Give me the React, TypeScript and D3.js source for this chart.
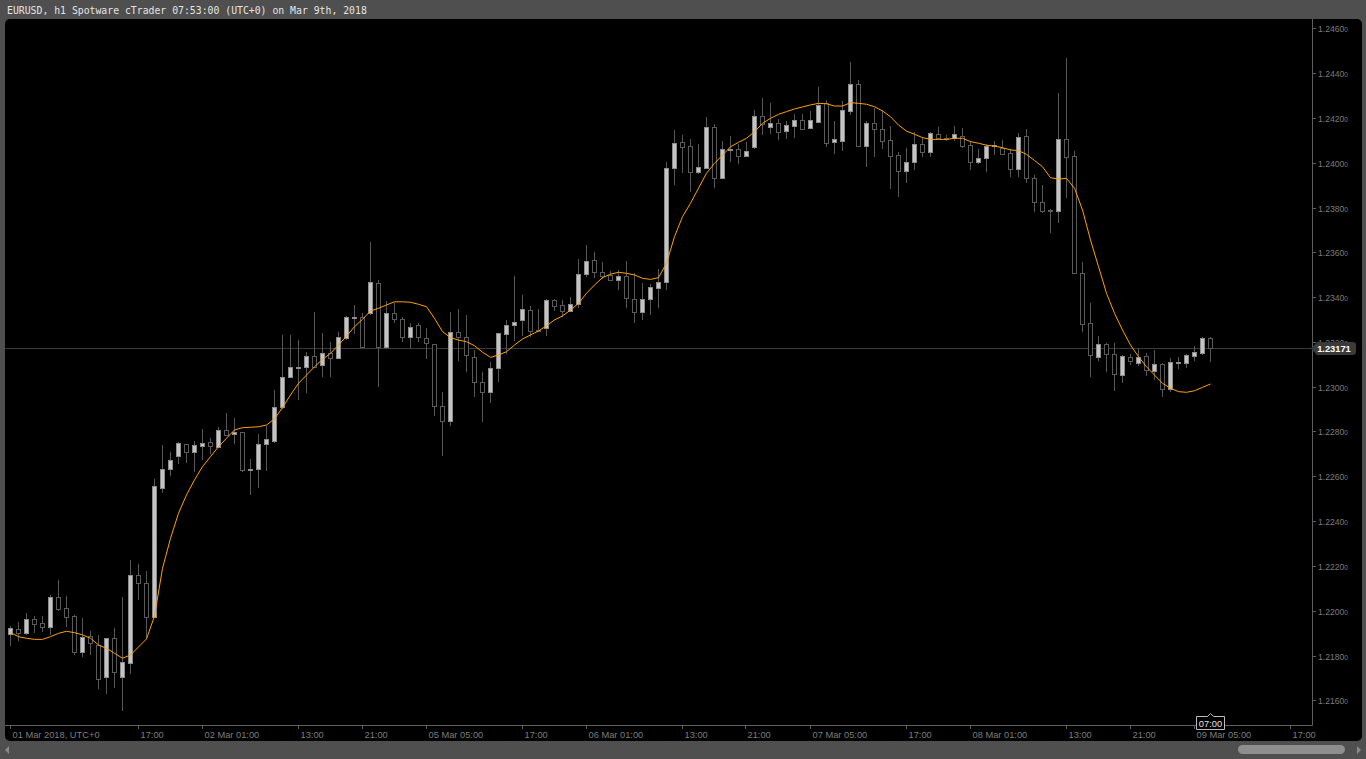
import React, { useEffect } from "react";
import * as d3 from "d3";

const openP = [
1.21896,1.21917,1.21902,1.21963,1.21944,1.21929,1.22060,1.22011,1.21976,1.21817,
1.21887,1.21847,1.21705,1.21877,1.21705,1.21768,1.22159,1.22125,1.21973,1.22549,
1.22631,1.22692,1.22743,1.22710,1.22734,1.22752,1.22732,1.22805,1.22788,1.22796,
1.22630,1.22634,1.22743,1.22759,1.22908,1.23045,1.23087,1.23089,1.23138,1.23096,
1.23149,1.23127,1.23216,1.23309,1.23310,1.23330,1.23462,1.23179,1.23328,1.23301,
1.23221,1.23275,1.23216,1.23189,1.22913,1.22846,1.23246,1.23223,1.23134,1.23020,
1.22975,1.23082,1.23234,1.23274,1.23296,1.23341,1.23252,1.23261,1.23386,1.23363,
1.23339,1.23368,1.23502,1.23566,1.23511,1.23499,1.23475,1.23494,1.23391,1.23335,
1.23390,1.23439,1.23466,1.23975,1.24091,1.24074,1.23957,1.23978,1.24158,1.23933,
1.24058,1.24060,1.24030,1.24069,1.24208,1.24158,1.24176,1.24143,1.24165,1.24189,
1.24156,1.24183,1.24266,1.24091,1.24098,1.24232,1.24350,1.24076,1.24176,1.24149,
1.24100,1.24034,1.23964,1.24004,1.24082,1.24046,1.24127,1.24110,1.24109,1.24120,
1.24079,1.24004,1.24022,1.24074,1.24067,1.24042,1.23970,1.24119,1.23930,1.23826,
1.23790,1.23786,1.24104,1.24030,1.23509,1.23283,1.23134,1.23189,1.23145,1.23051,
1.23131,1.23104,1.23137,1.23071,1.23100,1.22991,1.23108,1.23104,1.23138,1.23149,
1.23216];

const highP = [
1.21932,1.21951,1.21991,1.21976,1.21976,1.22070,1.22137,1.22066,1.21981,1.21966,
1.21909,1.21892,1.21880,1.21921,1.22063,1.22226,1.22209,1.22177,1.22588,1.22740,
1.22710,1.22753,1.22745,1.22758,1.22811,1.22772,1.22819,1.22881,1.22859,1.22798,
1.22677,1.22789,1.22825,1.22985,1.23231,1.23231,1.23208,1.23156,1.23332,1.23238,
1.23201,1.23243,1.23316,1.23365,1.23328,1.23645,1.23476,1.23383,1.23375,1.23310,
1.23283,1.23283,1.23261,1.23191,1.22975,1.23332,1.23347,1.23320,1.23164,1.23067,
1.23112,1.23240,1.23298,1.23494,1.23409,1.23360,1.23347,1.23391,1.23390,1.23386,
1.23400,1.23569,1.23633,1.23603,1.23555,1.23516,1.23521,1.23561,1.23506,1.23462,
1.23457,1.23525,1.24002,1.24146,1.24124,1.24106,1.24083,1.24205,1.24171,1.24097,
1.24119,1.24082,1.24091,1.24235,1.24290,1.24265,1.24194,1.24186,1.24216,1.24216,
1.24231,1.24337,1.24280,1.24186,1.24277,1.24448,1.24369,1.24186,1.24243,1.24235,
1.24164,1.24046,1.24064,1.24138,1.24116,1.24136,1.24161,1.24124,1.24164,1.24153,
1.24097,1.24061,1.24082,1.24098,1.24101,1.24060,1.24131,1.24150,1.23945,1.23900,
1.23793,1.24312,1.24466,1.24052,1.23557,1.23372,1.23226,1.23196,1.23194,1.23142,
1.23146,1.23174,1.23152,1.23164,1.23104,1.23127,1.23131,1.23146,1.23183,1.23223,
1.23221];

const lowP = [
1.21842,1.21865,1.21892,1.21902,1.21906,1.21892,1.22000,1.21929,1.21802,1.21795,
1.21802,1.21649,1.21628,1.21654,1.21554,1.21717,1.22048,1.21878,1.21972,1.22527,
1.22601,1.22655,1.22661,1.22621,1.22673,1.22700,1.22725,1.22782,1.22744,1.22621,
1.22517,1.22549,1.22625,1.22750,1.22900,1.23040,1.22941,1.22973,1.23085,1.23045,
1.23045,1.23122,1.23208,1.23235,1.23177,1.23320,1.22997,1.23167,1.23286,1.23201,
1.23167,1.23198,1.23124,1.22871,1.22692,1.22826,1.23116,1.23067,1.22955,1.22844,
1.22929,1.23022,1.23145,1.23205,1.23228,1.23221,1.23245,1.23228,1.23338,1.23312,
1.23332,1.23353,1.23491,1.23484,1.23481,1.23474,1.23432,1.23350,1.23283,1.23298,
1.23320,1.23350,1.23432,1.23900,1.23953,1.23868,1.23948,1.23972,1.23888,1.23926,
1.24004,1.23994,1.24024,1.24061,1.24124,1.24128,1.24101,1.24106,1.24112,1.24146,
1.24150,1.24178,1.24070,1.24039,1.24052,1.24213,1.24074,1.23982,1.24027,1.24061,
1.23883,1.23848,1.23911,1.23967,1.24024,1.24024,1.24104,1.24097,1.24098,1.24067,
1.23967,1.23994,1.23960,1.24034,1.24037,1.23937,1.23937,1.23908,1.23781,1.23777,
1.23687,1.23732,1.23844,1.23502,1.23246,1.23045,1.23116,1.23067,1.22982,1.23018,
1.23097,1.23092,1.23048,1.23030,1.22953,1.22978,1.23078,1.23082,1.23116,1.23142,
1.23112];

const closeP = [
1.21921,1.21902,1.21962,1.21939,1.21929,1.22060,1.22008,1.21973,1.21817,1.21881,
1.21855,1.21694,1.21877,1.21728,1.21770,1.22159,1.22122,1.21973,1.22557,1.22631,
1.22671,1.22747,1.22710,1.22738,1.22747,1.22734,1.22805,1.22785,1.22798,1.22628,
1.22632,1.22744,1.22765,1.22908,1.23042,1.23087,1.23089,1.23138,1.23087,1.23149,
1.23127,1.23221,1.23310,1.23311,1.23179,1.23466,1.23179,1.23328,1.23301,1.23221,
1.23268,1.23221,1.23194,1.22915,1.22848,1.23246,1.23223,1.23142,1.23020,1.22978,
1.23085,1.23238,1.23274,1.23290,1.23346,1.23250,1.23250,1.23386,1.23362,1.23339,
1.23368,1.23502,1.23561,1.23511,1.23496,1.23476,1.23493,1.23395,1.23335,1.23390,
1.23444,1.23466,1.23975,1.24087,1.24071,1.23957,1.23979,1.24158,1.23933,1.24060,
1.24061,1.24030,1.24054,1.24208,1.24173,1.24176,1.24138,1.24168,1.24189,1.24150,
1.24189,1.24258,1.24090,1.24104,1.24235,1.24350,1.24076,1.24176,1.24149,1.24098,
1.24031,1.23964,1.24004,1.24082,1.24046,1.24131,1.24112,1.24108,1.24127,1.24076,
1.24004,1.24020,1.24076,1.24077,1.24039,1.23970,1.24116,1.23930,1.23826,1.23786,
1.23788,1.24104,1.24027,1.23509,1.23279,1.23140,1.23189,1.23145,1.23055,1.23137,
1.23116,1.23131,1.23075,1.23100,1.22988,1.23109,1.23110,1.23142,1.23154,1.23216,
1.23171];

const maP = [
1.21902,1.21884,1.21877,1.21872,1.21872,1.21884,1.21899,1.21908,1.21902,1.21892,
1.21877,1.21847,1.21832,1.21810,1.21788,1.21802,1.21838,1.21874,1.21976,1.22189,
1.22323,1.22435,1.22517,1.22584,1.22643,1.22688,1.22732,1.22770,1.22807,1.22817,
1.22819,1.22821,1.22829,1.22856,1.22907,1.22963,1.23015,1.23052,1.23089,1.23122,
1.23149,1.23186,1.23226,1.23268,1.23301,1.23338,1.23350,1.23365,1.23379,1.23379,
1.23377,1.23368,1.23357,1.23305,1.23246,1.23219,1.23208,1.23201,1.23183,1.23154,
1.23131,1.23142,1.23156,1.23186,1.23213,1.23231,1.23249,1.23272,1.23298,1.23316,
1.23342,1.23372,1.23417,1.23454,1.23487,1.23502,1.23511,1.23506,1.23499,1.23484,
1.23479,1.23487,1.23551,1.23670,1.23759,1.23819,1.23886,1.23953,1.23997,1.24034,
1.24071,1.24091,1.24109,1.24138,1.24176,1.24198,1.24216,1.24228,1.24240,1.24249,
1.24258,1.24265,1.24263,1.24253,1.24253,1.24268,1.24265,1.24261,1.24250,1.24231,
1.24205,1.24168,1.24141,1.24127,1.24112,1.24104,1.24104,1.24104,1.24109,1.24109,
1.24094,1.24087,1.24078,1.24074,1.24067,1.24057,1.24054,1.24037,1.24010,1.23982,
1.23933,1.23927,1.23930,1.23886,1.23789,1.23655,1.23536,1.23417,1.23328,1.23253,
1.23186,1.23134,1.23089,1.23052,1.23015,1.22993,1.22978,1.22975,1.22982,1.22997,
1.23012];

const yTickValues = [1.216,1.218,1.22,1.222,1.224,1.226,1.228,1.23,1.232,1.234,1.236,1.238,1.24,1.242,1.244,1.246];
const xTickIndex = [0,16,24,36,44,52,64,72,84,92,100,112,120,132,140,148,160];
const xTickLabels = ["01 Mar 2018, UTC+0","17:00","02 Mar 01:00","13:00","21:00","05 Mar 05:00","17:00","06 Mar 01:00","13:00","21:00","07 Mar 05:00","17:00","08 Mar 01:00","13:00","21:00","09 Mar 05:00","17:00"];
const titleText = "EURUSD, h1 Spotware cTrader 07:53:00 (UTC+0) on Mar 9th, 2018";
const lastPrice = 1.23171;
const lastTimeLabel = "07:00";

const W = 1366, H = 759;
const PLOT_L = 5, PLOT_R = 1312, PLOT_T = 19, PLOT_B = 725;

export default function App() {
  useEffect(() => {
    document.body.style.margin = "0";
    document.body.style.background = "#4f4f4f";
  }, []);

  const x = d3.scaleLinear().domain([0, 150]).range([10.5, 1210.5]);
  const y = d3.scaleLinear().domain([1.216, 1.246]).range([700.3, 28.3]);

  const idx = d3.range(openP.length);
  const line = d3.line<number>().x((i) => x(i)).y((i) => y(maP[i]));
  const yLast = Math.round(y(lastPrice)) + 0.5;
  const xLast = x(openP.length - 1);

  return (
    <svg width={W} height={H} style={{ display: "block" }} xmlns="http://www.w3.org/2000/svg">
      <rect x={0} y={0} width={W} height={H} fill="#4f4f4f" />
      <text x={7} y={14} fill="#e4e4e4" fontFamily="DejaVu Sans Mono" fontSize={9.8}>{titleText}</text>
      <rect x={5} y={19} width={1357} height={722} rx={5} fill="#000" />
      <defs>
        <clipPath id="plotclip">
          <rect x={PLOT_L} y={PLOT_T} width={PLOT_R - PLOT_L} height={PLOT_B - PLOT_T} />
        </clipPath>
      </defs>
      {/* current price line */}
      <line x1={PLOT_L} x2={PLOT_R} y1={yLast} y2={yLast} stroke="#3a3a3a" strokeWidth={1} />
      <g clipPath="url(#plotclip)">
        {idx.map((i) => {
          const bull = closeP[i] >= openP[i];
          const cx = x(i);
          const top = Math.round(y(Math.max(openP[i], closeP[i])));
          const bot = Math.round(y(Math.min(openP[i], closeP[i])));
          const hy = Math.round(y(highP[i]));
          const ly = Math.round(y(lowP[i]));
          return (
            <g key={i}>
              <line x1={cx} x2={cx} y1={hy} y2={ly} stroke="#575757" strokeWidth={1} />
              <rect
                x={cx - 2}
                y={top + 0.5}
                width={4}
                height={Math.max(bot - top, 1)}
                fill={bull ? "#c4c4c4" : "#000"}
                stroke={bull ? "#8c8c8c" : "#5a5a5a"}
                strokeWidth={1}
              />
            </g>
          );
        })}
        <path d={line(idx) || ""} fill="none" stroke="#ffa200" strokeWidth={1} />
      </g>
      {/* axes */}
      <line x1={PLOT_R + 0.5} x2={PLOT_R + 0.5} y1={PLOT_T} y2={PLOT_B + 0.5} stroke="#5e5e5e" />
      <line x1={PLOT_L} x2={PLOT_R + 0.5} y1={PLOT_B + 0.5} y2={PLOT_B + 0.5} stroke="#5e5e5e" />
      {yTickValues.map((v) => {
        const yy = Math.round(y(v)) + 0.5;
        return (
          <g key={v}>
            <line x1={PLOT_R + 0.5} x2={PLOT_R + 4} y1={yy} y2={yy} stroke="#5e5e5e" />
            <text x={PLOT_R + 6} y={yy + 3} fill="#7c7c7c" fontFamily="Liberation Sans, Arial" fontSize={8.6}>
              {v.toFixed(4)}
              <tspan fontSize={6.5}>0</tspan>
            </text>
          </g>
        );
      })}
      {xTickIndex.map((ti, k) => {
        const xx = Math.round(x(ti)) - 0.5;
        return (
          <g key={ti}>
            <line x1={xx} x2={xx} y1={PLOT_B} y2={PLOT_B + 4} stroke="#5e5e5e" />
            <text x={xx + 2} y={738} fill="#7c7c7c" fontFamily="Liberation Sans, Arial" fontSize={9.3}>
              {xTickLabels[k]}
            </text>
          </g>
        );
      })}
      {/* last price label */}
      <path
        d={`M${PLOT_R - 1},${yLast} L${PLOT_R + 5},${yLast - 6.5} L${1353},${yLast - 6.5} Q1356,${yLast - 6.5} 1356,${yLast - 3.5} L1356,${yLast + 3.5} Q1356,${yLast + 6.5} 1353,${yLast + 6.5} L${PLOT_R + 5},${yLast + 6.5} Z`}
        fill="#3a3a3a"
      />
      <text x={1334} y={yLast + 3.5} fill="#ffffff" fontFamily="Liberation Sans, Arial" fontSize={9.3} textAnchor="middle" fontWeight="bold">
        {lastPrice.toFixed(5)}
      </text>
      {/* last time label */}
      <path
        d={`M${xLast - 14},716.5 L${xLast - 3},716.5 L${xLast},713.5 L${xLast + 3},716.5 L${xLast + 14},716.5 L${xLast + 14},729.5 L${xLast - 14},729.5 Z`}
        fill="#000"
        stroke="#bdbdbd"
        strokeWidth={1}
      />
      <text x={xLast} y={727} fill="#e0e0e0" fontFamily="Liberation Sans, Arial" fontSize={9.3} textAnchor="middle">
        {lastTimeLabel}
      </text>
      {/* scrollbar */}
      <rect x={1238} y={745} width={107} height={9} rx={4.5} fill="#8e8e8e" />
      <polygon points="5,750 9,746 9,754" fill="#8a8a8a" />
      <polygon points="1361,750 1357,746 1357,754" fill="#8a8a8a" />
    </svg>
  );
}
